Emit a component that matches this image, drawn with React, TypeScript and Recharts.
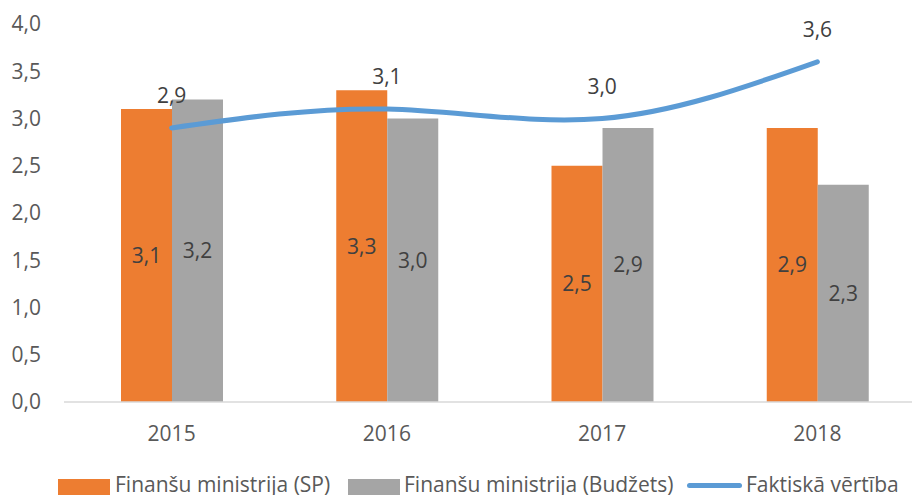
import React from "react";
import {
  ComposedChart,
  Bar,
  Line,
  XAxis,
  YAxis,
  Legend,
  LabelList,
} from "recharts";

const years = ["2015", "2016", "2017", "2018"];
const finMinSP = [3.1, 3.3, 2.5, 2.9];
const finMinBudget = [3.2, 3.0, 2.9, 2.3];
const actualValue = [2.9, 3.1, 3.0, 3.6];
const yTicks = [0, 0.5, 1, 1.5, 2, 2.5, 3, 3.5, 4];

const seriesNames = {
  sp: "Finanšu ministrija (SP)",
  budget: "Finanšu ministrija (Budžets)",
  actual: "Faktiskā vērtība",
};

const COLORS = {
  sp: "#ED7D31",
  budget: "#A5A5A5",
  actual: "#5B9BD5",
};

const data = years.map((year, i) => ({
  year,
  sp: finMinSP[i],
  budget: finMinBudget[i],
  actual: actualValue[i],
}));

const comma = (v: number | string) =>
  typeof v === "number" ? v.toFixed(1).replace(".", ",") : v;

// legend drawn like the Excel one: wide colour keys, grey text
function ChartLegend() {
  const textStyle: React.CSSProperties = {
    position: "absolute",
    top: 0,
    fontSize: 21,
    color: "#595959",
    whiteSpace: "nowrap",
    lineHeight: "27px",
  };
  return (
    <div style={{ position: "relative", width: 925, height: 60 }}>
      <div style={{ position: "absolute", left: 58, top: 8, width: 52, height: 20, background: COLORS.sp }} />
      <span style={{ ...textStyle, left: 115 }}>{seriesNames.sp}</span>
      <div style={{ position: "absolute", left: 348, top: 8, width: 52, height: 20, background: COLORS.budget }} />
      <span style={{ ...textStyle, left: 404 }}>{seriesNames.budget}</span>
      <div style={{ position: "absolute", left: 687, top: 12, width: 55, height: 5, borderRadius: 3, background: COLORS.actual }} />
      <span style={{ ...textStyle, left: 746 }}>{seriesNames.actual}</span>
    </div>
  );
}

export default function App() {
  return (
    <div
      style={{
        position: "fixed",
        left: 0,
        top: 0,
        width: 912,
        height: 495,
        overflow: "hidden",
        background: "#fff",
        fontFamily: "'Open Sans', sans-serif",
      }}
    >
      <ComposedChart
        width={925}
        height={531}
        data={data}
        margin={{ top: 24, right: 0, bottom: 0, left: 0 }}
        barGap={0}
      >
        <XAxis
          dataKey="year"
          axisLine={{ stroke: "#D9D9D9", strokeWidth: 1.5 }}
          tickLine={false}
          tickSize={6}
          tickMargin={18}
          height={69}
          tick={{ fill: "#595959", fontSize: 21 }}
        />
        <YAxis
          domain={[0, 4]}
          ticks={yTicks}
          interval={0}
          axisLine={false}
          tickLine={false}
          width={64}
          tickSize={6}
          tickMargin={17}
          tickFormatter={comma}
          tick={{ fill: "#595959", fontSize: 21 }}
        />
        <Legend verticalAlign="bottom" height={60} content={() => <ChartLegend />} wrapperStyle={{ left: 0, width: 925 }} />
        <Bar dataKey="sp" name={seriesNames.sp} fill={COLORS.sp} barSize={51} isAnimationActive={false}>
          <LabelList dataKey="sp" position="center" formatter={comma} fill="#404040" fontSize={21} />
        </Bar>
        <Bar dataKey="budget" name={seriesNames.budget} fill={COLORS.budget} barSize={51} isAnimationActive={false}>
          <LabelList dataKey="budget" position="center" formatter={comma} fill="#404040" fontSize={21} />
        </Bar>
        <Line
          type="natural"
          dataKey="actual"
          name={seriesNames.actual}
          stroke={COLORS.actual}
          strokeWidth={5}
          strokeLinecap="round"
          dot={false}
          isAnimationActive={false}
        >
          <LabelList dataKey="actual" position="top" offset={25} formatter={comma} fill="#404040" fontSize={21} />
        </Line>
      </ComposedChart>
    </div>
  );
}
